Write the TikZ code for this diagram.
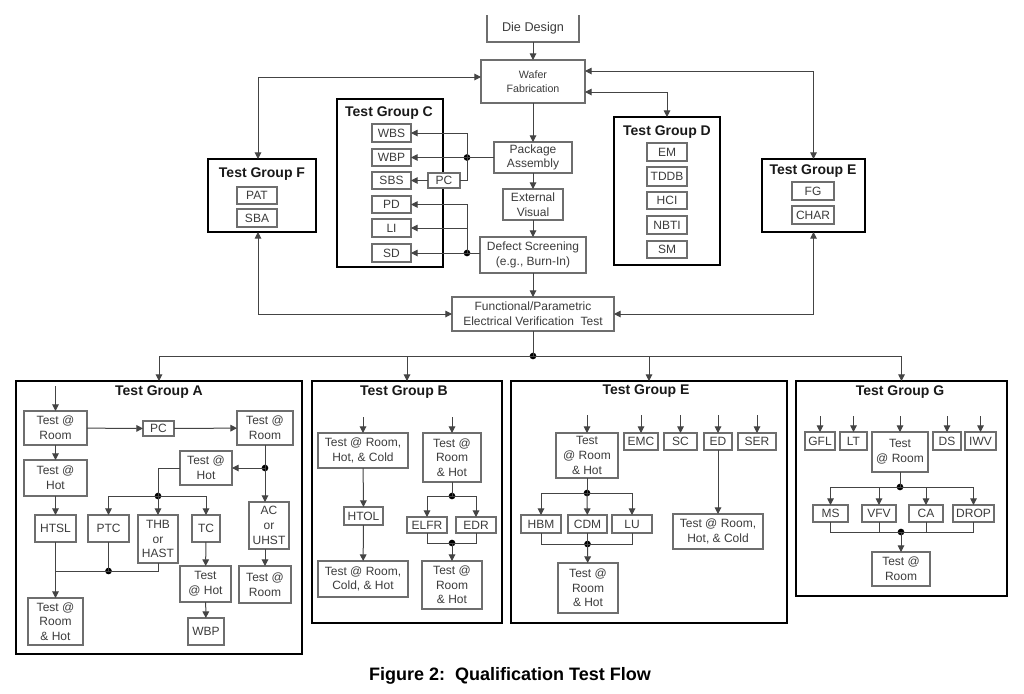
\documentclass[tikz,border=0pt]{standalone}
\usepackage{fontspec}
\setmainfont{Liberation Sans}
\usetikzlibrary{arrows.meta}
\definecolor{boxline}{HTML}{6E6E6E}
\definecolor{txtc}{HTML}{3C3C3C}
\definecolor{wirec}{HTML}{444444}
\newcommand\bx[7][]{\node[box,minimum width={(#5-#3)*0.75pt},minimum height={(#6-#4)*0.75pt},#1] (#2) at ({(#3+#5)/2},{(#4+#6)/2}) {#7};}
\tikzset{
  box/.style={draw=boxline, line width=0.8pt, fill=white, inner sep=0pt, outer sep=0pt, align=center,
    font=\fontsize{9}{11}\selectfont, text=txtc},
  grp/.style={draw=black, line width=2.1pt, fill=white},
  ttl/.style={font=\fontsize{10.5}{12}\selectfont\bfseries, text=black!90, inner sep=0pt},
  wire/.style={draw=wirec, line width=0.75pt},
  arr/.style={wire, -{Triangle[length=5pt,width=5pt]}},
  barr/.style={wire, {Triangle[length=5pt,width=5pt]}-{Triangle[length=5pt,width=5pt]}},
  dot/.style={circle, fill=black, inner sep=0pt, minimum size=5pt},
  boxl/.style={draw=boxline, line width=0.8pt},
}
\begin{document}
\begin{tikzpicture}[x=0.75pt,y=-0.75pt]
\fill[white] (0,0) rectangle (1024,693);
\useasboundingbox (0,0) rectangle (1024,693);

% ---------- main flow ----------
\bx[draw=none,font=\fontsize{9.5}{11}\selectfont]{die}{487}{15}{579}{42}{Die Design}
\draw[boxl] (die.north west) -- (die.south west) -- (die.south east) -- (die.north east);
\bx[font=\fontsize{8}{10.5}\selectfont]{waf}{481}{60}{585}{103}{Wafer\\Fabrication}
\bx{pkg}{494}{142}{572}{173}{Package\\Assembly}
\bx{ext}{503}{189}{563}{220}{External\\Visual}
\bx{def}{480}{237}{586}{273}{Defect Screening\\(e.g., Burn-In)}
\bx{fun}{452}{297}{614}{331}{Functional/Parametric\\Electrical Verification\ \ Test}

% ---------- Test Group F ----------
\bx[grp]{gF}{208}{159}{316}{232}{}
\node[ttl] (tF) at (262,174) {Test Group F};
\bx{pat}{237}{187}{277}{204}{PAT}
\bx{sba}{237}{209}{277}{227}{SBA}

% ---------- Test Group C ----------
\bx[grp]{gC}{337}{99}{443}{267}{}
\node[ttl] (tC) at (389,113) {Test Group C};
\bx{wbs}{372}{124}{411}{142}{WBS}
\bx{wbp}{372}{149}{411}{166}{WBP}
\bx{sbs}{372}{172}{411}{189}{SBS}
\bx{pd}{372}{196}{411}{213}{PD}
\bx{li}{372}{219}{411}{237}{LI}
\bx{sd}{372}{244}{411}{262}{SD}
\bx{pc}{428}{173}{460}{188}{PC}

% ---------- Test Group D ----------
\bx[grp]{gD}{614}{117}{720}{265}{}
\node[ttl] (tD) at (667,132) {Test Group D};
\bx{em}{647}{143}{687}{161}{EM}
\bx{tddb}{647}{167}{687}{186}{TDDB}
\bx{hci}{647}{192}{687}{209}{HCI}
\bx{nbti}{647}{216}{687}{234}{NBTI}
\bx{sm}{647}{241}{687}{258}{SM}

% ---------- Test Group E (top) ----------
\bx[grp]{gEt}{762}{159}{865}{232}{}
\node[ttl] (tEt) at (813,171) {Test Group E};
\bx{fg}{792}{182}{834}{200}{FG}
\bx{char}{792}{206}{834}{224}{CHAR}

% ---------- top connectors ----------
\draw[arr] (die) -- (waf);
\draw[arr] (waf) -- (pkg);
\draw[arr] (pkg) -- (ext);
\draw[arr] (ext) -- (def);
\draw[arr] (def) -- (fun);
\draw[barr] (waf.west |- 0,77) -| (258,0 |- gF.north);
\draw[barr] (258,0 |- gF.south) |- (fun.west);
\draw[barr] (waf.east |- 0,92) -| (gD.north);
\draw[barr] (waf.east |- 0,71) -| (gEt.north);
\draw[barr] (gEt.south) |- (fun.east);

\node[dot] (jc1) at (467,157.5) {};
\draw[wire] (pkg.west) -- (jc1.center);
\draw[arr] (jc1.center) -- (wbp.east);
\draw[arr] (jc1.center) |- (wbs.east);
\draw[wire] (jc1.center) |- (pc.east);
\draw[arr] (pc.west) -- (sbs.east);
\node[dot] (jc2) at (467,253) {};
\draw[wire] (def.west |- jc2) -- (jc2.center);
\draw[arr] (jc2.center) -- (sd.east);
\draw[arr] (jc2.center) |- (pd.east);
\draw[arr] (li.east -| jc2) -- (li.east);

% ---------- bottom groups ----------
\bx[grp]{gA}{16}{381}{302}{654}{}
\bx[grp]{gB}{312}{381}{502}{623}{}
\bx[grp]{gE}{511}{381}{787}{623}{}
\bx[grp]{gG}{796}{381}{1007}{596}{}

\node[dot] (jb) at (533,356) {};
\draw[wire] (fun) -- (jb.center);
\draw[arr] (jb.center) -| (gA.north);
\draw[arr] (jb.center) -| (gB.north);
\draw[arr] (jb.center) -| (gE.north);
\draw[arr] (jb.center) -| (gG.north);

% ---------- Test Group A ----------
\node[ttl] (tA) at (159,392) {Test Group A};
\coordinate (a0) at (55.5,386);
\bx{aT1}{24}{411}{87}{445}{Test @\\Room}
\bx{aPC}{143}{421}{174}{436}{PC}
\bx{aT2}{237}{411}{293}{445}{Test @\\Room}
\bx{aT3}{24}{460}{87}{496}{Test @\\Hot}
\bx{aHTSL}{35}{515}{76}{542}{HTSL}
\bx{aT4}{180}{451}{232}{485}{Test @\\Hot}
\bx{aAC}{249}{502}{289}{549}{AC\\or\\UHST}
\bx{aT5}{239}{566}{291}{603}{Test @\\Room}
\bx{aPTC}{88}{515}{129}{542}{PTC}
\bx{aTHB}{138}{515}{178}{563}{THB\\or\\HAST}
\bx{aTC}{192}{515}{220}{542}{TC}
\bx{aT6}{180}{566}{231}{602}{Test\\@ Hot}
\bx{aWBP}{188}{618}{224}{645}{WBP}
\bx{aT7}{28}{598}{83}{645}{Test @\\Room\\\& Hot}
\draw[arr] (a0) -- (aT1);
\draw[arr] (aT1) -- (aPC);
\draw[arr] (aPC) -- (aT2);
\draw[arr] (aT1) -- (aT3);
\draw[arr] (aT3) -- (aHTSL);
\draw[arr] (aHTSL) -- (aT7);
\node[dot] (ja1) at (265,468) {};
\draw[wire] (aT2) -- (ja1.center);
\draw[arr] (ja1.center) -- (ja1 |- aAC.north);
\draw[arr] (ja1.center) -- (aT4);
\draw[arr] (ja1 |- aAC.south) -- (ja1 |- aT5.north);
\node[dot] (ja2) at (158,496) {};
\draw[wire] (aT4.west) -| (ja2.center);
\draw[arr] (ja2.center) -| (aPTC.north);
\draw[arr] (ja2.center) -- (aTHB);
\draw[arr] (ja2.center) -| (aTC.north);
\draw[arr] (aTC) -- (aT6);
\draw[arr] (aT6) -- (aWBP);
\node[dot] (ja3) at (108.5,571) {};
\draw[wire] (aPTC) -- (ja3.center);
\draw[wire] (aTHB.south) |- (aHTSL.south |- ja3);

% ---------- Test Group B ----------
\node[ttl] (tB) at (404,392) {Test Group B};
\coordinate (b0) at (363,417);
\coordinate (b1) at (452,417);
\bx{bB1}{318}{433}{408}{468}{Test @ Room,\\Hot, \& Cold}
\bx{bHTOL}{344}{507}{383}{525}{HTOL}
\bx{bB3}{318}{561}{408}{597}{Test @ Room,\\Cold, \& Hot}
\bx{bB2}{423}{433}{481}{482}{Test @\\Room\\\& Hot}
\bx{bELFR}{407}{517}{447}{533}{ELFR}
\bx{bEDR}{456}{517}{496}{533}{EDR}
\bx{bB4}{422}{561}{482}{609}{Test @\\Room\\\& Hot}
\draw[arr] (b0) -- (bB1);
\draw[arr] (bB1) -- (bHTOL);
\draw[arr] (bHTOL) -- (bB3);
\draw[arr] (b1) -- (bB2);
\node[dot] (jb1) at (452,496) {};
\draw[wire] (bB2) -- (jb1.center);
\draw[arr] (jb1.center) -| (bELFR.north);
\draw[arr] (jb1.center) -| (bEDR.north);
\node[dot] (jb2) at (452,543) {};
\draw[wire] (bELFR.south) -- (bELFR.south |- jb2) -- (bEDR.south |- jb2) -- (bEDR.south);
\draw[arr] (jb2.center) -- (bB4);

% ---------- Test Group E (bottom) ----------
\node[ttl] (tE) at (646,391) {Test Group E};
\bx{eE1}{556}{433}{618}{478}{Test\\@ Room\\\& Hot}
\bx{eEMC}{624}{433}{658}{450}{EMC}
\bx{eSC}{664}{433}{697}{450}{SC}
\bx{eED}{704}{433}{732}{450}{ED}
\bx{eSER}{738}{433}{776}{450}{SER}
\coordinate (e0) at (587,415);
\coordinate (e1) at (641,415);
\coordinate (e2) at (680.5,415);
\coordinate (e3) at (718,415);
\coordinate (e4) at (757,415);
\draw[arr] (e0) -- (eE1);
\draw[arr] (e1) -- (eEMC);
\draw[arr] (e2) -- (eSC);
\draw[arr] (e3) -- (eED);
\draw[arr] (e4) -- (eSER);
\bx{eHBM}{521}{515}{561}{533}{HBM}
\bx{eCDM}{568}{515}{607}{533}{CDM}
\bx{eLU}{612}{515}{652}{533}{LU}
\bx{eE2}{558}{563}{618}{613}{Test @\\Room\\\& Hot}
\bx{eE3}{673}{514}{763}{549}{Test @ Room,\\Hot, \& Cold}
\node[dot] (je1) at (587,493) {};
\draw[wire] (eE1) -- (je1.center);
\draw[arr] (je1.center) -| (eHBM.north);
\draw[arr] (je1.center) -- (eCDM);
\draw[arr] (je1.center) -| (eLU.north);
\node[dot] (je2) at (587.5,544) {};
\draw[wire] (eHBM.south) -- (eHBM.south |- je2) -- (eLU.south |- je2) -- (eLU.south);
\draw[wire] (eCDM) -- (je2.center);
\draw[arr] (je2.center) -- (eE2);
\draw[arr] (eED) -- (eE3);

% ---------- Test Group G ----------
\node[ttl] (tG) at (900,392) {Test Group G};
\bx{gGFL}{805}{432}{835}{450}{GFL}
\bx{gLT}{840}{432}{867}{450}{LT}
\bx{gT1}{872}{432}{928}{472}{Test\\@ Room}
\bx{gDS}{933}{432}{961}{450}{DS}
\bx{gIWV}{965}{432}{996}{450}{IWV}
\coordinate (g0) at (820,416);
\coordinate (g1) at (853.5,416);
\coordinate (g2) at (900,416);
\coordinate (g3) at (947,416);
\coordinate (g4) at (980.5,416);
\draw[arr] (g0) -- (gGFL);
\draw[arr] (g1) -- (gLT);
\draw[arr] (g2) -- (gT1);
\draw[arr] (g3) -- (gDS);
\draw[arr] (g4) -- (gIWV);
\bx{gMS}{813}{505}{848}{522}{MS}
\bx{gVFV}{862}{505}{896}{522}{VFV}
\bx{gCA}{909}{505}{943}{522}{CA}
\bx{gDROP}{953}{505}{994}{522}{DROP}
\bx{gT2}{872}{552}{930}{586}{Test @\\Room}
\node[dot] (jg1) at (900,487) {};
\draw[wire] (gT1) -- (jg1.center);
\draw[arr] (jg1.center) -| (gMS.north);
\draw[arr] (jg1.center) -| (gVFV.north);
\draw[arr] (jg1.center) -| (gCA.north);
\draw[arr] (jg1.center) -| (gDROP.north);
\node[dot] (jg2) at (901,532) {};
\draw[wire] (gMS.south) -- (gMS.south |- jg2) -- (gDROP.south |- jg2) -- (gDROP.south);
\draw[wire] (gVFV.south) -- (gVFV.south |- jg2);
\draw[wire] (gCA.south) -- (gCA.south |- jg2);
\draw[arr] (jg2.center) -- (gT2);

% ---------- caption ----------
\node[font=\fontsize{13.5}{15}\selectfont\bfseries, anchor=base, inner sep=0pt] (cap) at (510,680) {Figure 2:\ \ Qualification Test Flow};
\end{tikzpicture}
\end{document}
